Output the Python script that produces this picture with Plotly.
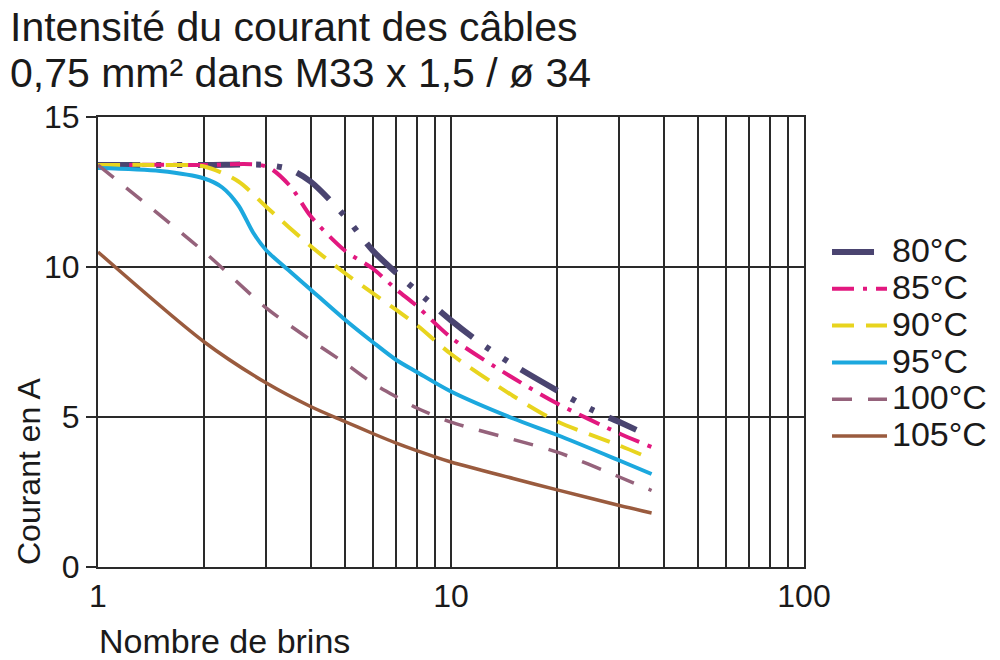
import plotly.graph_objects as go

# Data
series_names = ["80°C", "85°C", "90°C", "95°C", "100°C", "105°C"]

x_80 = [1, 2, 3, 3.5, 4, 5, 6, 7, 8, 10, 12, 15, 20, 25, 30, 33.5]
y_80 = [13.4, 13.4, 13.4, 13.25, 12.85, 11.7, 10.55, 9.8, 9.2, 8.22, 7.5, 6.74, 5.88, 5.25, 4.83, 4.57]

x_85 = [1, 2, 3, 3.5, 4, 5, 6, 7, 8, 10, 15, 20, 30, 37]
y_85 = [13.4, 13.4, 13.35, 12.7, 11.7, 10.55, 9.95, 9.25, 8.7, 7.65, 6.3, 5.45, 4.45, 4.0]

x_90 = [1, 1.5, 2, 2.5, 3, 4, 5, 6, 7, 8, 10, 15, 20, 30, 37]
y_90 = [13.4, 13.4, 13.35, 12.85, 12.0, 10.7, 9.8, 9.13, 8.57, 8.07, 7.1, 5.7, 4.85, 4.05, 3.6]

x_95 = [1, 1.5, 2, 2.25, 2.5, 2.75, 3, 3.5, 4, 5, 6, 7, 8, 10, 15, 20, 30, 37]
y_95 = [13.3, 13.2, 12.95, 12.65, 12.05, 11.15, 10.55, 9.85, 9.25, 8.25, 7.5, 6.9, 6.5, 5.85, 4.95, 4.4, 3.55, 3.1]

x_100 = [1, 2, 3, 4, 5, 6, 7, 8, 10, 15, 20, 30, 37]
y_100 = [13.4, 10.5, 8.63, 7.57, 6.8, 6.13, 5.67, 5.3, 4.83, 4.25, 3.83, 3.0, 2.55]

x_105 = [1, 2, 3, 4, 5, 6, 7, 8, 10, 15, 20, 30, 37]
y_105 = [10.5, 7.5, 6.13, 5.35, 4.85, 4.45, 4.13, 3.88, 3.5, 2.95, 2.57, 2.05, 1.8]

x_tickvals = [1, 2, 3, 4, 5, 6, 7, 8, 9, 10, 20, 30, 40, 50, 60, 70, 80, 90, 100]
x_ticktext = ["1", "", "", "", "", "", "", "", "", "10", "", "", "", "", "", "", "", "", "100"]
y_tickvals = [0, 5, 10, 15]

title_line1 = "Intensité du courant des câbles"
title_line2 = "0,75 mm² dans M33 x 1,5 / ø 34"
x_title = "Nombre de brins"
y_title = "Courant en A"

styles = [
    dict(color="#4a4470", width=6, dash="42px,16px,5px,16px,5px,16px"),
    dict(color="#e2187f", width=4, dash="22px,9px,4px,9px"),
    dict(color="#e8d41e", width=4, dash="22px,12px"),
    dict(color="#1ca8de", width=4, dash="solid"),
    dict(color="#95627b", width=3.5, dash="20px,16px"),
    dict(color="#9a5b3e", width=3.5, dash="solid"),
]

xs = [x_80, x_85, x_90, x_95, x_100, x_105]
ys = [y_80, y_85, y_90, y_95, y_100, y_105]

fig = go.Figure()
for name, x, y, st in zip(series_names, xs, ys, styles):
    label = '<span style="font-size:34px">' + name + '</span>'
    fig.add_trace(go.Scatter(x=x, y=y, name=label, mode="lines",
                             line=dict(shape="spline", smoothing=0.8, **st)))

font_family = "Liberation Sans, Arial, sans-serif"
grid_color = "#2a2a2a"
text_color = "#1a1a1a"

# page has 8px body margin: plot area spans page x 98..804, y 117..567
fig.update_layout(
    width=1000, height=660,
    margin=dict(l=90, r=204, t=109, b=101),
    paper_bgcolor="white", plot_bgcolor="white",
    font=dict(family=font_family, size=32, color=text_color),
    legend=dict(x=1.0326, y=0.752, xanchor="left", yanchor="top",
                font=dict(size=26), bgcolor="rgba(0,0,0,0)",
                tracegroupgap=0, itemwidth=55),
    showlegend=True,
)

fig.update_xaxes(type="log", range=[0, 2], tickvals=x_tickvals, ticktext=x_ticktext,
                 showgrid=True, gridcolor=grid_color, gridwidth=2,
                 showline=True, linecolor=grid_color, linewidth=2, mirror=True,
                 ticks="", zeroline=False, tickfont=dict(size=32))
fig.update_yaxes(range=[0, 15], tickvals=y_tickvals,
                 showgrid=True, gridcolor=grid_color, gridwidth=2,
                 showline=True, linecolor=grid_color, linewidth=2, mirror=True,
                 ticks="outside", ticklen=10, tickwidth=2, tickcolor=grid_color,
                 zeroline=False, tickfont=dict(size=32))

def px_x(px):
    return (px - 98) / 706.0

def px_y(py):
    return (567 - py) / 450.0

fig.add_annotation(text=title_line1, xref="paper", yref="paper",
                   x=px_x(9), y=px_y(27), showarrow=False, borderpad=0,
                   xanchor="left", yanchor="middle", font=dict(size=41))
fig.add_annotation(text=title_line2, xref="paper", yref="paper",
                   x=px_x(9), y=px_y(73), showarrow=False, borderpad=0,
                   xanchor="left", yanchor="middle", font=dict(size=41))
fig.add_annotation(text=y_title, xref="paper", yref="paper",
                   x=px_x(29), y=px_y(472), textangle=-90, showarrow=False,
                   borderpad=0, xanchor="center", yanchor="middle", font=dict(size=32))
fig.add_annotation(text=x_title, xref="paper", yref="paper",
                   x=px_x(98), y=px_y(641), showarrow=False, borderpad=0,
                   xanchor="left", yanchor="middle", font=dict(size=34))

fig.write_html("out.html")
